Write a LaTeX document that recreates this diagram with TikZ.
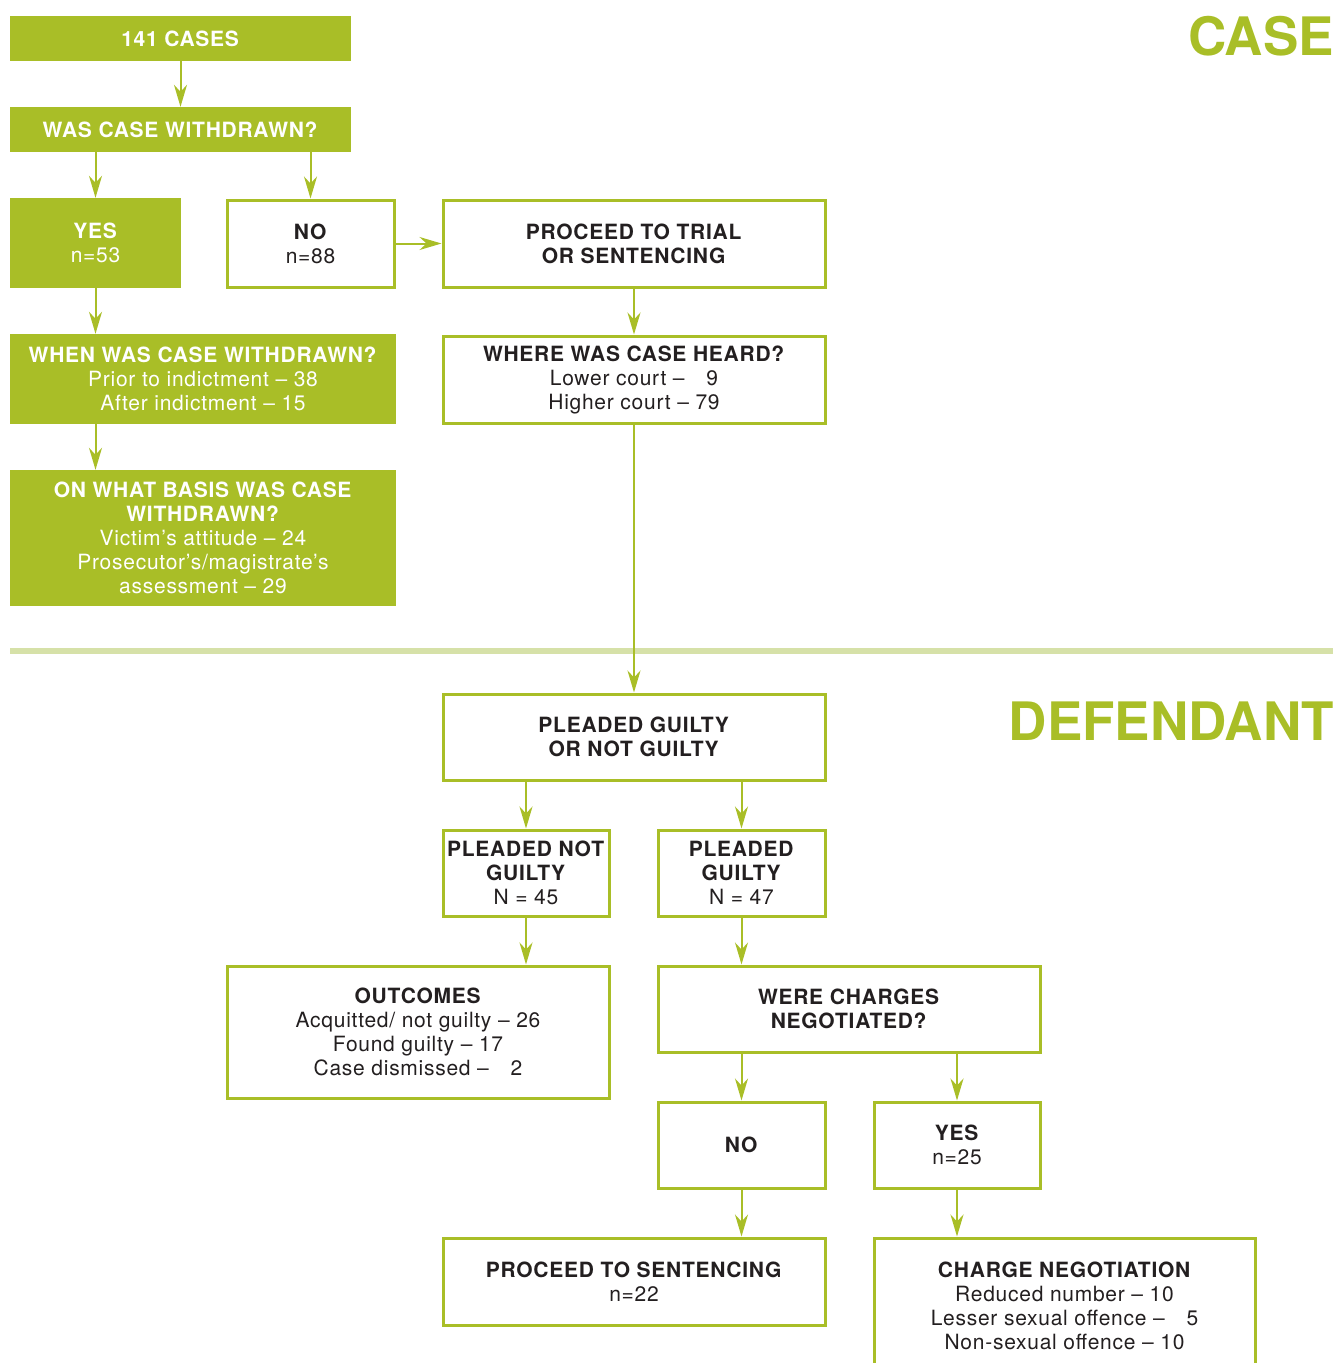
\documentclass[tikz,border=0pt]{standalone}
\usepackage{fontspec}
\setmainfont{TeX Gyre Heros}
\newfontfamily\bodyfont[LetterSpace=3.5]{TeX Gyre Heros}
\usetikzlibrary{arrows.meta}
\definecolor{grn}{HTML}{A9BE27}
\definecolor{lgrn}{HTML}{D6E1A8}
\definecolor{ink}{HTML}{231F20}
\newcommand\bx[7]{\node[#2, minimum width={#5-#3}, minimum height={#6-#4}] (#1) at ({(#3+#5)/2},{(#4+#6)/2}) {#7};}
\begin{document}
\begin{tikzpicture}[x=1pt,y=-1pt,
  base/.style={rectangle, inner sep=0pt, align=center, font=\bodyfont\fontsize{21}{24}\selectfont},
  fillbox/.style={base, fill=grn, text=white},
  linebox/.style={base, draw=grn, line width=3pt, fill=white, text=ink},
  arr/.style={draw=grn, line width=2pt, -{Stealth[length=22pt,width=13pt,inset=7pt]}},
  title/.style={inner sep=0pt, text=grn, font=\fontsize{53}{53}\selectfont\bfseries}
]
\useasboundingbox (0,0) rectangle (1339,1363);
\clip (0,0) rectangle (1339,1363);

\draw[lgrn, line width=6pt] (10,650.5) -- (1333,650.5);

\node[title, anchor=base east] (tcase) at (1334,55) {CASE};
\node[title, anchor=base east] (tdef) at (1334,740) {DEFENDANT};

\bx{c141}{fillbox}{10}{16}{351}{61}{\textbf{141 CASES}}
\bx{was}{fillbox}{10}{107}{351}{152}{\textbf{WAS CASE WITHDRAWN?}}
\bx{yes}{fillbox}{10}{198}{181}{288}{\textbf{YES}\\n=53}
\bx{no}{linebox}{227}{200}{394}{287}{\textbf{NO}\\n=88}
\bx{ptt}{linebox}{443}{200}{825}{287}{\textbf{PROCEED TO TRIAL}\\\textbf{OR SENTENCING}}
\bx{when}{fillbox}{10}{334}{396}{424}{\textbf{WHEN WAS CASE WITHDRAWN?}\\Prior to indictment – 38\\After indictment – 15}
\bx{basis}{fillbox}{10}{470}{396}{606}{\textbf{ON WHAT BASIS WAS CASE}\\\textbf{WITHDRAWN?}\\Victim’s attitude – 24\\Prosecutor’s/magistrate’s\\assessment – 29}
\bx{where}{linebox}{443}{336}{825}{423}{\textbf{WHERE WAS CASE HEARD?}\\Lower court – \phantom{7}\,9\\Higher court – 79}
\bx{pg}{linebox}{443}{694}{825}{780}{\textbf{PLEADED GUILTY}\\\textbf{OR NOT GUILTY}}
\bx{png}{linebox}{443}{830}{609}{916}{\textbf{PLEADED NOT}\\\textbf{GUILTY}\\N = 45}
\bx{pgy}{linebox}{658}{830}{825}{916}{\textbf{PLEADED}\\\textbf{GUILTY}\\N = 47}
\bx{out}{linebox}{227}{966}{609}{1098}{\textbf{OUTCOMES}\\Acquitted/ not guilty – 26\\Found guilty – 17\\Case dismissed – \phantom{2}\,2}
\bx{were}{linebox}{658}{966}{1040}{1052}{\textbf{WERE CHARGES}\\\textbf{NEGOTIATED?}}
\bx{no2}{linebox}{658}{1102}{825}{1188}{\textbf{NO}}
\bx{yes2}{linebox}{874}{1102}{1040}{1188}{\textbf{YES}\\n=25}
\bx{pts}{linebox}{443}{1238}{825}{1325}{\textbf{PROCEED TO SENTENCING}\\n=22}
\bx{cn}{linebox}{874}{1238}{1255}{1374}{\textbf{CHARGE NEGOTIATION}\\Reduced number – 10\\Lesser sexual offence – \phantom{1}\,5\\Non-sexual offence – 10}

\draw[arr] (c141.south) -- (was.north);
\draw[arr] (was.south -| yes.north) -- (yes.north);
\draw[arr] (was.south -| no.north) -- (no.north);
\draw[arr] (no.east) -- (ptt.west);
\draw[arr] (yes.south) -- (yes.south |- when.north);
\draw[arr] (when.south -| yes.south) -- (yes.south |- basis.north);
\draw[arr] (ptt.south) -- (where.north);
\draw[arr] (where.south) -- (pg.north);
\draw[arr] (pg.south -| png.north) -- (png.north);
\draw[arr] (pg.south -| pgy.north) -- (pgy.north);
\draw[arr] (png.south) -- (png.south |- out.north);
\draw[arr] (pgy.south) -- (pgy.south |- were.north);
\draw[arr] (were.south -| no2.north) -- (no2.north);
\draw[arr] (were.south -| yes2.north) -- (yes2.north);
\draw[arr] (no2.south) -- (no2.south |- pts.north);
\draw[arr] (yes2.south) -- (yes2.south |- cn.north);
\end{tikzpicture}
\end{document}
